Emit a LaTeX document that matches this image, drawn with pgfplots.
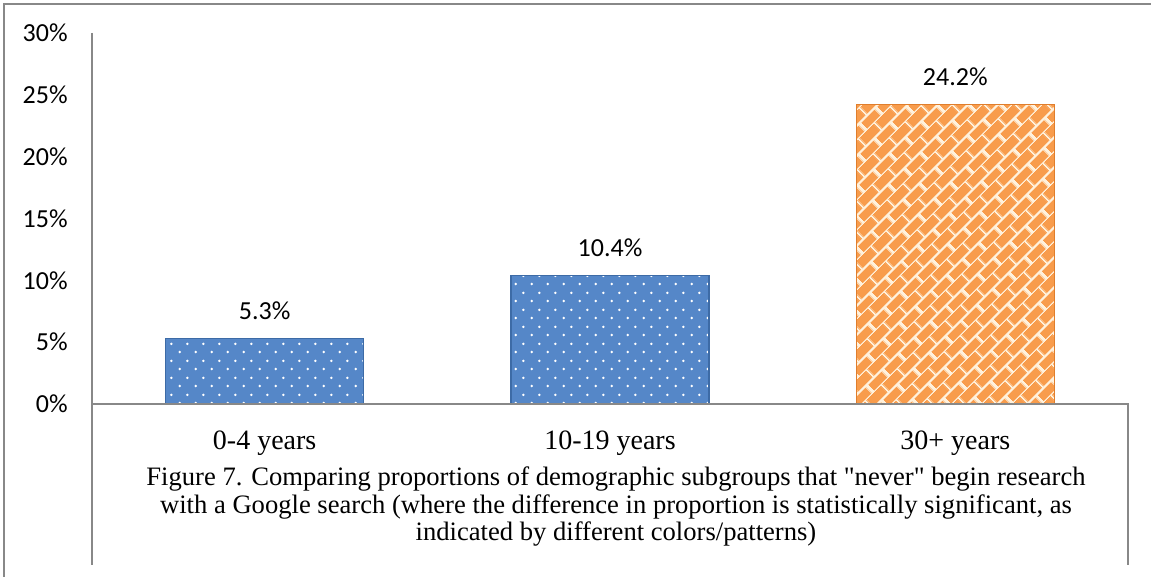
\documentclass[border=0pt]{standalone}
\usepackage{fontspec}
\setmainfont{Liberation Serif}
\newfontfamily\titlefont{Liberation Serif}[Ligatures=TeXOff]
\newfontfamily\carlito{Carlito}
\usepackage{pgfplots}
\pgfplotsset{compat=1.18}
\usetikzlibrary{patterns.meta}
\definecolor{frameC}{HTML}{888888}
\definecolor{blueC}{HTML}{5587C8}
\definecolor{blueD}{HTML}{3D6BA6}
\definecolor{orangeC}{HTML}{F89C4C}
\definecolor{orangeD}{HTML}{E07E2C}
\definecolor{mortar}{HTML}{FFF1DC}
\tikzdeclarepattern{
  name=mydots, type=uncolored,
  bottom left={(0pt,0pt)}, top right={(8pt,8.5pt)},
  tile size={(8pt,8.5pt)},
  code={
    \fill (2pt,2.125pt) circle (0.7pt);
    \fill (6pt,6.375pt) circle (0.7pt);
  }
}
\tikzdeclarepattern{
  name=mybricks, type=uncolored,
  bottom left={(0pt,0pt)}, top right={(11pt,10.6pt)},
  tile size={(11pt,10.6pt)},
  tile transformation={rotate=45},
  code={
    \draw[line width=1.1pt] (-1pt,0pt) -- (12pt,0pt);
    \draw[line width=1.1pt] (-1pt,5.3pt) -- (12pt,5.3pt);
    \draw[line width=1.1pt] (0pt,0pt) -- (0pt,5.3pt);
    \draw[line width=1.1pt] (11pt,0pt) -- (11pt,5.3pt);
    \draw[line width=1.1pt] (5.5pt,5.3pt) -- (5.5pt,10.6pt);
  }
}
\begin{document}
\begin{tikzpicture}
\useasboundingbox (-46pt,-86.5pt) rectangle (529.5pt,202pt);
\clip (-46pt,-86.5pt) rectangle (529.5pt,202pt);
\fill[white] (-46pt,-86.5pt) rectangle (529.5pt,202pt);
\draw[frameC, line width=1pt] (-44pt,-100pt) -- (-44pt,200pt) -- (540pt,200pt);
\begin{axis}[
  at={(0pt,0pt)}, anchor=south west,
  scale only axis,
  width=518pt, height=185.5pt,
  xmin=-0.5, xmax=2.5, ymin=0, ymax=30,
  axis line style={draw=none},
  tick style={draw=none},
  xtick={0,1,2},
  xticklabels={0-4 years,10-19 years,30+ years},
  xticklabel style={font=\fontsize{14}{15}\selectfont, anchor=base, inner sep=0pt, yshift=-18.5pt},
  ytick={0,5,10,15,20,25,30},
  yticklabels={0\%,5\%,10\%,15\%,20\%,25\%,30\%},
  yticklabel style={font=\carlito\fontsize{13}{15}\selectfont, anchor=east, inner sep=0pt, xshift=-12pt},
  ybar, bar width=99pt, bar shift=0pt,
  nodes near coords={\pgfmathprintnumber[fixed,precision=1,fixed zerofill]{\pgfplotspointmeta}\%},
  nodes near coords style={font=\carlito\fontsize{13}{15}\selectfont, text=black, anchor=south, inner sep=0pt, yshift=9pt, /pgf/number format/assume math mode=true},
  clip=false,
]
\addplot[fill=blueC, draw=blueD, line width=0.6pt, postaction={pattern=mydots, pattern color=white}] coordinates {(0,5.3) (1,10.4)};
\addplot[fill=orangeC, draw=orangeD, line width=0.6pt, postaction={pattern=mybricks, pattern color=mortar}] coordinates {(2,24.2)};
\end{axis}
\draw[frameC, line width=1pt] (0pt,185.5pt) -- (0pt,-80.5pt);
\draw[frameC, line width=1pt] (0pt,0pt) -- (518pt,0pt) -- (518pt,-80.5pt);
\begin{scope}[every node/.style={font=\titlefont\fontsize{13.3}{15}\selectfont, anchor=base, inner sep=0pt}]
\node at (262pt,-40.75pt) {Figure 7. Comparing proportions of demographic subgroups that "never" begin research};
\node at (262pt,-54.75pt) {with a Google search (where the difference in proportion is statistically significant, as};
\node at (262pt,-68.5pt) {indicated by different colors/patterns)};
\end{scope}
\end{tikzpicture}
\end{document}
